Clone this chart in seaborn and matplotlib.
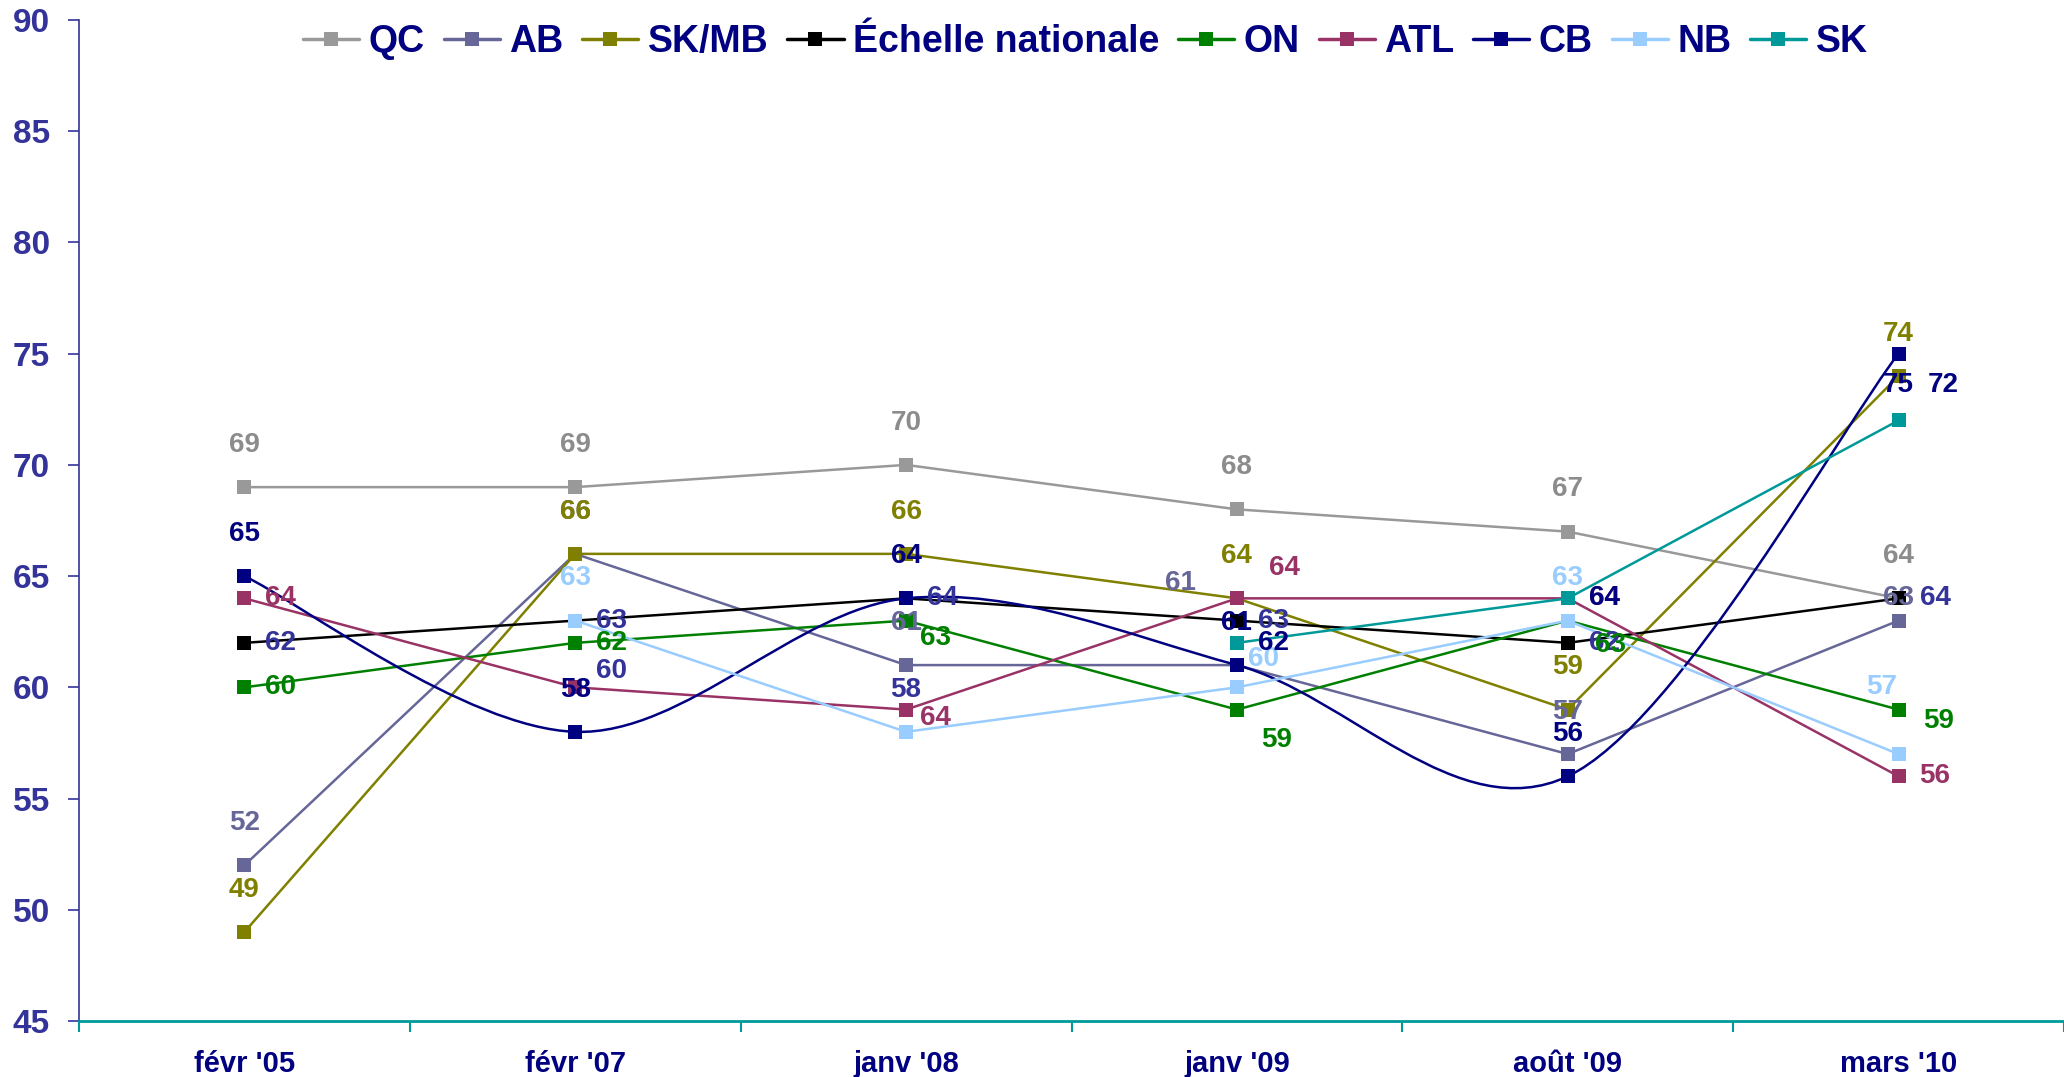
import numpy as np
import matplotlib
matplotlib.use("Agg")
import matplotlib.pyplot as plt
from matplotlib import font_manager
from matplotlib.path import Path
from matplotlib.patches import PathPatch
from matplotlib.lines import Line2D
import seaborn as sns

# periodes de sondage
periods = ["févr '05", "févr '07", "janv '08", "janv '09", "août '09", "mars '10"]
series_names = ["QC", "AB", "SK/MB", "Échelle nationale", "ON", "ATL", "CB", "NB", "SK"]

qc = [69, 69, 70, 68, 67, 64]
ab = [52, 66, 61, 61, 57, 63]
skmb = [49, 66, 66, 64, 59, 74]
nationale = [62, 63, 64, 63, 62, 64]
on = [60, 62, 63, 59, 63, 59]
atl = [64, 60, 59, 64, 64, 56]
cb = [65, 58, 64, 61, 56, 75]
nb = [np.nan, 63, 58, 60, 63, 57]
sk = [np.nan, np.nan, np.nan, 62, 64, 72]

# etiquettes telles qu'affichees (certaines ne collent pas au point)
qc_lab = ["69", "69", "70", "68", "67", "64"]
ab_lab = ["52", "66", "61", "61", "57", "63"]
skmb_lab = ["49", "66", "66", "64", "59", "74"]
nationale_lab = ["62", "63", "64", "63", "62", "64"]
on_lab = ["60", "62", "63", "59", "63", "59"]
atl_lab = ["64", "60", "64", "64", "64", "56"]
cb_lab = ["65", "58", "64", "61", "56", "75"]
nb_lab = [None, "63", "58", "60", "63", "57"]
sk_lab = [None, None, None, "62", "64", "72"]

values = [qc, ab, skmb, nationale, on, atl, cb, nb, sk]
labels = [qc_lab, ab_lab, skmb_lab, nationale_lab, on_lab, atl_lab, cb_lab, nb_lab, sk_lab]

line_colors = ["#999999", "#666699", "#808000", "#000000", "#008000",
               "#993366", "#000080", "#99CCFF", "#009999"]
label_colors = ["#8c8c8c", "#666699", "#808000", "#333399", "#008000",
                "#993366", "#000080", "#99CCFF", "#000080"]
label_color_fix = {("ATL", 1): "#333399", ("NB", 2): "#333399"}

# decalage des etiquettes (categories, points de %)
UP = (0, 1.9)
RT = (0.11, 0)
placement = {
    "QC": [UP] * 6,
    "AB": [UP, UP, UP, (-0.17, 3.7), UP, (0, 1.0)],
    "SK/MB": [UP] * 6,
    "Échelle nationale": [RT] * 6,
    "ON": [RT, RT, (0.09, -0.8), (0.12, -1.35), (0.13, -1.1), (0.12, -0.5)],
    "ATL": [RT, (0.11, 0.75), (0.09, -0.4), (0.145, 1.35), RT, RT],
    "CB": [UP] * 5 + [(0, -1.4)],
    "NB": [UP, UP, UP, (0.08, 1.26), UP, (-0.05, 3.0)],
    "SK": [RT, RT, RT, RT, RT, (0.135, 1.6)],
}

available = {f.name for f in font_manager.fontManager.ttflist}
has_narrow = "Liberation Sans Narrow" in available
narrow = ["Liberation Sans Narrow", "Liberation Sans", "DejaVu Sans"] if has_narrow \
    else ["Liberation Sans", "DejaVu Sans"]

sns.set_theme(style="ticks")
plt.rcParams["font.family"] = ["Liberation Sans", "DejaVu Sans"]

fig = plt.figure(figsize=(20.64, 10.77), dpi=100)
ax = fig.add_axes([79 / 2064, 1 - 1021 / 1077, 1 - 79 / 2064, (1021 - 20) / 1077])

x = np.arange(len(periods))
for name, vals, lc in zip(series_names, values, line_colors):
    if name == "CB":
        # ligne lissee comme dans Excel
        sns.lineplot(x=x, y=vals, color=lc, marker="s", markersize=10.5, linestyle="none",
                     markeredgecolor=lc, markeredgewidth=0, ax=ax)
        pts = np.column_stack([x, vals]).astype(float)
        n = len(pts)
        verts = [pts[0]]
        codes = [Path.MOVETO]
        for i in range(n - 1):
            c1 = pts[i] + (pts[i + 1] - pts[max(i - 1, 0)]) / 6
            c2 = pts[i + 1] - (pts[min(i + 2, n - 1)] - pts[i]) / 6
            verts += [c1, c2, pts[i + 1]]
            codes += [Path.CURVE4] * 3
        ax.add_patch(PathPatch(Path(verts, codes), fill=False, edgecolor=lc, lw=1.8, zorder=2))
    else:
        sns.lineplot(x=x, y=vals, color=lc, marker="s", markersize=10.5, linewidth=1.8,
                     markeredgecolor=lc, markeredgewidth=0, ax=ax)

for name, vals, labs, lcol in zip(series_names, values, labels, label_colors):
    for i, (v, t) in enumerate(zip(vals, labs)):
        if t is None:
            continue
        dx, dy = placement[name][i]
        ax.text(i + dx, v + dy, t, ha="center", va="center", fontsize=20, fontweight="bold",
                color=label_color_fix.get((name, i), lcol), zorder=5)

ax.set_xlim(-0.5, 5.5)
ax.set_ylim(45, 90)
ax.set_yticks(range(45, 91, 5))
ax.set_xticks(x, periods)
ax.set_xticks(np.arange(-0.5, 6, 1), minor=True)
ax.tick_params(axis="x", which="major", length=0, pad=21,
               labelsize=23 if has_narrow else 21, labelcolor="#000080")
ax.tick_params(axis="x", which="minor", length=8, width=1.5, color="#009999", direction="out")
ax.tick_params(axis="y", length=8, width=1.2, color="#333399", labelsize=24,
               labelcolor="#333399", pad=13, direction="out")
for lab in ax.get_xticklabels():
    lab.set_family(narrow)
    lab.set_fontweight("bold")
for lab in ax.get_yticklabels():
    lab.set_fontweight("bold")
ax.spines["left"].set_color("#333399")
ax.spines["left"].set_linewidth(1.2)
ax.spines["bottom"].set_color("#009999")
ax.spines["bottom"].set_linewidth(2)
ax.spines["top"].set_visible(False)
ax.spines["right"].set_visible(False)
ax.set_xlabel("")
ax.set_ylabel("")

handles = [Line2D([], [], color=c, marker="s", markersize=10, lw=2.5, mec=c, mew=0) for c in line_colors]
leg = ax.legend(handles, series_names, ncol=9, loc="center", bbox_to_anchor=(0.507, 0.978),
                frameon=False, handlelength=1.5, handletextpad=0.25, columnspacing=0.5,
                prop={"family": narrow, "weight": "bold", "size": 30 if has_narrow else 27})
for t in leg.get_texts():
    t.set_color("#000080")

plt.savefig("out.png", dpi=100)
